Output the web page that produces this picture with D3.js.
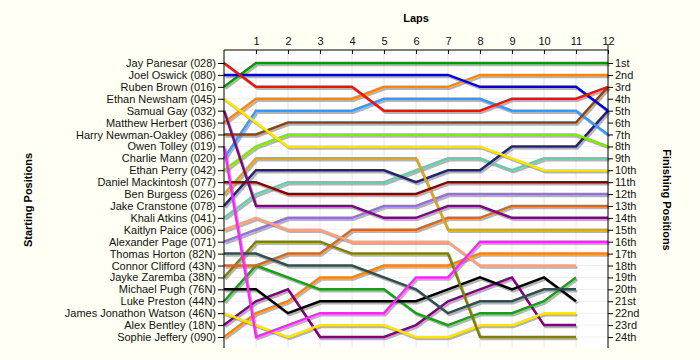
<!DOCTYPE html>
<html>
<head>
<meta charset="utf-8">
<script src="https://cdn.jsdelivr.net/npm/d3@7"></script>
<style>
body { margin: 0; background: #fffff4; }
svg { display: block; font-family: "Liberation Sans", Arial, sans-serif; }
.axis path, .axis line { stroke: #000; }
.axis text { font-size: 11px; fill: #111; }
.title { font-size: 11px; font-weight: bold; }
</style>
</head>
<body>
<svg width="700" height="360"></svg>
<script>
var laps = [0, 1, 2, 3, 4, 5, 6, 7, 8, 9, 10, 11, 12];

var drivers = [
    "Jay Panesar (028)", "Joel Oswick (080)", "Ruben Brown (016)", "Ethan Newsham (045)",
    "Samual Gay (032)", "Matthew Herbert (036)", "Harry Newman-Oakley (086)", "Owen Tolley (019)",
    "Charlie Mann (020)", "Ethan Perry (042)", "Daniel Mackintosh (077)", "Ben Burgess (026)",
    "Jake Cranstone (078)", "Khali Atkins (041)", "Kaitlyn Paice (006)", "Alexander Page (071)",
    "Thomas Horton (82N)", "Connor Clifford (43N)", "Jayke Zaremba (38N)", "Michael Pugh (76N)",
    "Luke Preston (44N)", "James Jonathon Watson (46N)", "Alex Bentley (18N)", "Sophie Jeffery (090)"
];

// position at each lap, null = no lap 12 (lapped)
var positions = [
    [1, 3, 3, 3, 3, 5, 5, 5, 5, 4, 4, 4, 3],
    [2, 2, 2, 2, 2, 2, 2, 2, 3, 3, 3, 3, 5],
    [3, 1, 1, 1, 1, 1, 1, 1, 1, 1, 1, 1, 1],
    [4, 6, 8, 8, 8, 8, 8, 8, 8, 9, 10, 10, 10],
    [5, 13, 13, 13, 13, 14, 14, 13, 13, 14, 14, 14, 14],
    [6, 4, 4, 4, 4, 3, 3, 3, 2, 2, 2, 2, 2],
    [7, 7, 6, 6, 6, 6, 6, 6, 6, 6, 6, 6, 3],
    [8, 24, 23, 22, 22, 22, 19, 19, 16, 16, 16, 16, 16],
    [9, 5, 5, 5, 5, 4, 4, 4, 4, 5, 5, 5, 7],
    [10, 8, 7, 7, 7, 7, 7, 7, 7, 7, 7, 7, 8],
    [11, 11, 12, 12, 12, 12, 12, 11, 11, 11, 11, 11, 11],
    [12, 9, 9, 9, 9, 9, 9, 15, 15, 15, 15, 15, 15],
    [13, 10, 10, 10, 10, 10, 11, 10, 10, 8, 8, 8, 5],
    [14, 12, 11, 11, 11, 11, 10, 9, 9, 10, 9, 9, 9],
    [15, 14, 15, 15, 16, 16, 16, 16, 18, 18, 18, 18, null],
    [16, 15, 14, 14, 14, 13, 13, 12, 12, 12, 12, 12, 12],
    [17, 17, 18, 18, 18, 19, 20, 22, 21, 21, 20, 20, null],
    [18, 18, 17, 17, 15, 15, 15, 14, 14, 13, 13, 13, 13],
    [19, 16, 16, 16, 17, 17, 17, 17, 24, 24, 24, 24, null],
    [20, 20, 22, 21, 21, 21, 21, 20, 19, 20, 19, 21, null],
    [21, 18, 19, 20, 20, 20, 22, 23, 22, 22, 21, 19, null],
    [22, 23, 24, 23, 23, 23, 24, 24, 23, 23, 22, 22, null],
    [23, 21, 20, 24, 24, 24, 23, 21, 20, 19, 23, 23, null],
    [24, 22, 21, 19, 19, 18, 18, 18, 17, 17, 17, 17, 17]
];

var finishLabels = ["1st", "2nd", "3rd", "4th", "5th", "6th", "7th", "8th", "9th", "10th", "11th", "12th",
    "13th", "14th", "15th", "16th", "17th", "18th", "19th", "20th", "21st", "22nd", "23rd", "24th"];

var colors = [
    "#ee1111", "#0000d8", "#009a00", "#ffe600", "#7a0a80", "#ff8400", "#8b4513", "#ff22ff",
    "#3399ff", "#80e800", "#8b0000", "#daa520", "#24246e", "#66cdaa", "#ffa07a", "#9370db",
    "#2f4f4f", "#d2691e", "#808000", "#000000", "#15a015", "#ffe600", "#800080", "#ff8000"
];

var svg = d3.select("svg");
var plotLeft = 224, plotRight = 608, plotTop = 50, plotBottom = 348;

var x = d3.scaleLinear().domain([0, 12]).range([plotLeft, plotRight]);
var y = d3.scaleLinear().domain([1, 24]).range([63, 337]);
var rows = d3.range(1, 25);

// plot background
svg.append("rect")
    .attr("x", plotLeft).attr("y", plotTop)
    .attr("width", plotRight - plotLeft).attr("height", plotBottom - plotTop)
    .style("fill", "#ffffff");

// grid
var grid = svg.append("g").attr("class", "grid");
grid.selectAll(".vgrid")
    .data(laps.slice(1, 12))
    .enter().append("line")
    .attr("x1", function(d) { return x(d); })
    .attr("x2", function(d) { return x(d); })
    .attr("y1", plotTop).attr("y2", plotBottom)
    .style("stroke", "#e6e6e6");
grid.selectAll(".hgrid")
    .data(rows)
    .enter().append("line")
    .attr("x1", plotLeft).attr("x2", plotRight)
    .attr("y1", function(d) { return y(d); })
    .attr("y2", function(d) { return y(d); })
    .style("stroke", "#efefef");

var line = d3.line()
    .defined(function(d) { return d != null; })
    .x(function(d, i) { return x(laps[i]); })
    .y(function(d) { return y(d); });

var series = svg.append("g").attr("class", "series");
// draw bottom starters first so the leaders end up on top
var order = d3.range(drivers.length).reverse();

order.forEach(function(i) {
    series.append("path")
        .attr("d", line(positions[i]))
        .attr("transform", "translate(1.5,2)")
        .style("fill", "none")
        .style("stroke", "#777")
        .style("stroke-opacity", 0.55)
        .style("stroke-width", 2.5);
});
order.forEach(function(i) {
    series.append("path")
        .attr("d", line(positions[i]))
        .style("fill", "none")
        .style("stroke", colors[i])
        .style("stroke-width", 2.5);
});

// axes
var leftAxis = svg.append("g").attr("class", "axis")
    .attr("transform", "translate(" + plotLeft + ",0)")
    .call(d3.axisLeft(y).tickValues(rows).tickSize(6).tickSizeOuter(0)
        .tickFormat(function(d) { return drivers[d - 1]; }));
leftAxis.select(".domain").attr("d", "M0," + plotTop + "V" + plotBottom);
leftAxis.selectAll("text").attr("x", -8);

var rightAxis = svg.append("g").attr("class", "axis")
    .attr("transform", "translate(" + plotRight + ",0)")
    .call(d3.axisRight(y).tickValues(rows).tickSize(5).tickSizeOuter(0)
        .tickFormat(function(d) { return finishLabels[d - 1]; }));
rightAxis.select(".domain").attr("d", "M0," + (plotTop - 6) + "V" + plotBottom);
rightAxis.selectAll("text").attr("x", 7);

var topAxis = svg.append("g").attr("class", "axis")
    .attr("transform", "translate(0," + plotTop + ")")
    .call(d3.axisTop(x).tickValues(laps.slice(1)).tickSize(-4).tickSizeOuter(0));
topAxis.select(".domain").attr("d", "M" + plotLeft + ",0H" + plotRight);
topAxis.selectAll("text").attr("y", -5);

// titles
svg.append("text").attr("class", "title")
    .attr("x", 416).attr("y", 22)
    .attr("text-anchor", "middle")
    .text("Laps");
svg.append("text").attr("class", "title")
    .attr("transform", "translate(32,200) rotate(-90)")
    .attr("text-anchor", "middle")
    .text("Starting Positions");
svg.append("text").attr("class", "title")
    .attr("transform", "translate(663,200) rotate(90)")
    .attr("text-anchor", "middle")
    .text("Finishing Positions");
</script>
</body>
</html>
